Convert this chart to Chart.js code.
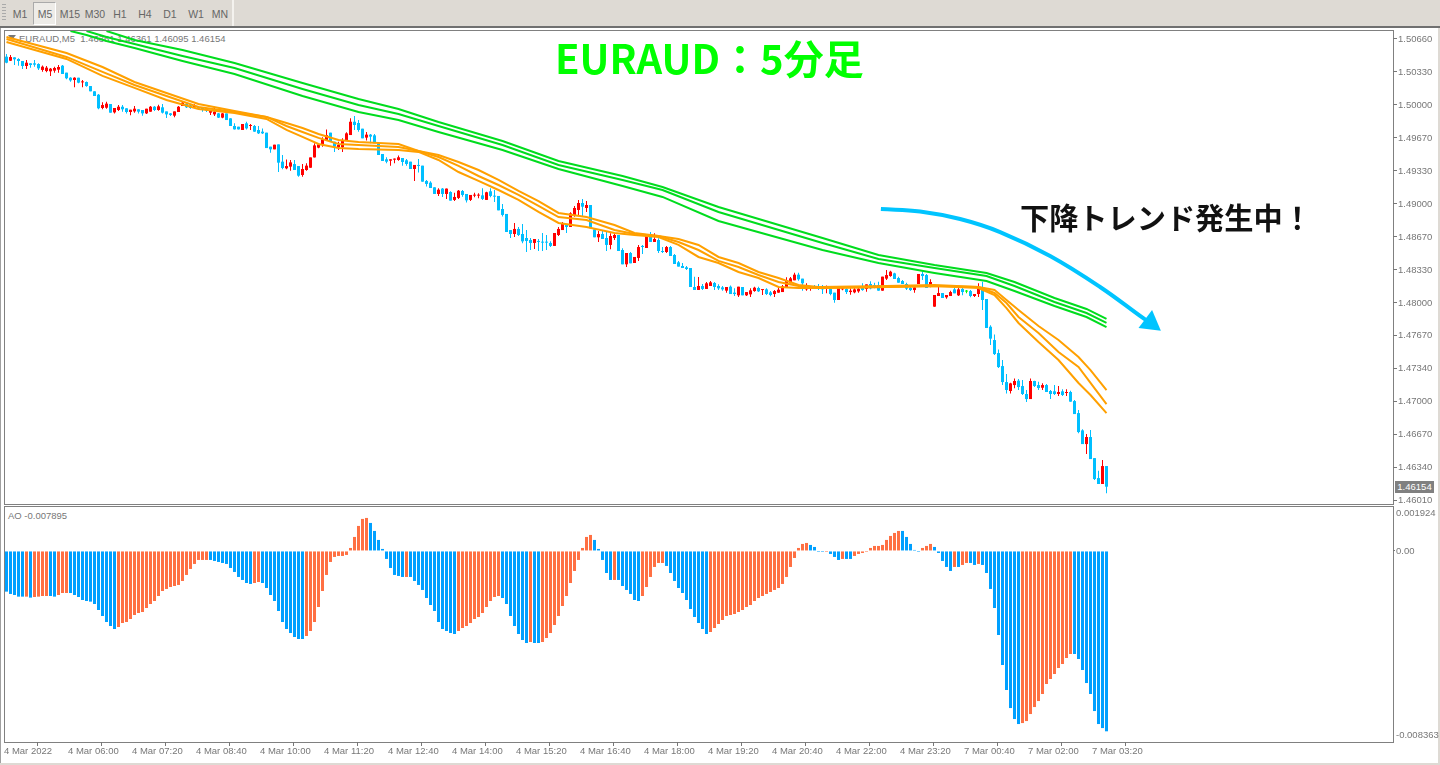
<!DOCTYPE html>
<html>
<head>
<meta charset="utf-8" />
<title>EURAUD M5</title>
<script src="https://cdn.jsdelivr.net/npm/chart.js"></script>
<style>
    html, body { margin: 0; padding: 0; background: #fff; overflow: hidden; }
    body { width: 1440px; height: 765px; position: relative; font-family: "Liberation Sans", sans-serif; }
    canvas { position: absolute; left: 0; z-index: 2; }
    .abs { position: absolute; white-space: nowrap; }
    #toolbar { left: 0; top: 0; width: 1440px; height: 26px; background: #dedad4; }
    .tf { position: absolute; top: 8px; width: 24px; text-align: center; font-size: 10.5px; color: #666; }
    .pane { position: absolute; box-sizing: border-box; border: 1px solid #808080; left: 4px; width: 1390px; }
    .info { color: #777; font-size: 9.5px; z-index: 1; }
    .note { font-family: "Noto Sans CJK JP", sans-serif; font-weight: 700; z-index: 3; line-height: 1; }
</style>
</head>
<body>
<div class="abs" id="toolbar">
    <div class="abs" style="left:2px;top:4px;width:4px;height:18px;background:repeating-linear-gradient(#aaa 0 1px,transparent 1px 3px)"></div>
    <div class="abs" style="left:33px;top:2px;width:21px;height:21px;border:1px solid #aaa;border-right-color:#fff;border-bottom-color:#fff;background:#eeece8"></div>
    <div class="abs" style="left:232px;top:0;width:2px;height:26px;background:#f4f2ee"></div>
    <span class="tf" style="left:8px">M1</span><span class="tf" style="left:33px">M5</span>
    <span class="tf" style="left:58px">M15</span><span class="tf" style="left:83px">M30</span>
    <span class="tf" style="left:108px">H1</span><span class="tf" style="left:133px">H4</span>
    <span class="tf" style="left:158px">D1</span><span class="tf" style="left:184px">W1</span>
    <span class="tf" style="left:208px">MN</span>
</div>
<div class="abs" style="left:0;top:26px;width:1440px;height:2px;background:#707070"></div>
<div class="abs" style="left:0;top:28px;width:1px;height:737px;background:#a0a0a0"></div>
<div class="abs" style="left:1438px;top:28px;width:2px;height:737px;background:#dedad4"></div>
<div class="abs" style="left:0;top:763px;width:1440px;height:2px;background:#dedad4"></div>
<div class="pane" style="top:30px;height:475px"></div>
<div class="pane" style="top:506px;height:237px"></div>
<div class="abs info" style="left:8px;top:35px;width:0;height:0;border-left:4px solid transparent;border-right:4px solid transparent;border-top:5px solid #777;margin-left:0"></div>
<div class="abs info" style="left:19px;top:33px">EURAUD,M5&nbsp; 1.46361 1.46361 1.46095 1.46154</div>
<div class="abs info" style="left:8px;top:510px">AO -0.007895</div>
<div class="abs" style="left:1395px;top:481px;width:39px;height:12px;line-height:12px;background:#808080;color:#fff;font-size:9.5px;text-align:center;z-index:3">1.46154</div>
<div class="abs note" style="left:555px;top:37px;font-size:40px;color:#00ff00">EURAUD：5分足</div>
<div class="abs note" style="left:1020px;top:202px;font-size:29.2px;color:#111">下降トレンド発生中！</div>
<canvas id="priceChart" width="1440" height="505" style="top:0"></canvas>
<canvas id="aoChart" width="1440" height="260" style="top:505px"></canvas>
<script>
// all prices in points (1.50660 = 150660), AO in millionths
const opens = [
150482,150441,150475,150458,150438,150388,150415,150415,150408,150348,
150337,150334,150341,150351,150391,150321,150270,150247,150270,150223,
150227,150186,150133,150099,149965,149968,150005,149921,149945,149978,
149962,149925,149931,149952,149945,149911,149928,149978,149945,149972,
149931,149911,149888,149925,149985,150005,149992,149972,149978,149972,
149962,149918,149901,149911,149868,149911,149861,149784,149777,149744,
149811,149784,149784,149744,149727,149717,149576,149549,149599,149425,
149358,149375,149401,149381,149291,149341,149364,149468,149566,149603,
149643,149717,149626,149569,149569,149643,149693,149827,149814,149757,
149667,149697,149690,149610,149502,149449,149435,149445,149442,149462,
149439,149425,149351,149392,149385,149231,149214,149167,149100,149154,
149100,149120,149040,149060,149130,149100,149040,149083,149083,149086,
149040,149127,149080,149080,148949,148899,148737,148697,148748,148697,
148657,148637,148607,148627,148617,148617,148607,148577,148687,148737,
148788,148768,148888,148939,149009,148959,148989,148744,148664,148697,
148657,148587,148657,148687,148536,148392,148506,148405,148456,148577,
148556,148697,148617,148637,148526,148516,148566,148486,148412,148375,
148362,148355,148164,148134,148174,148144,148174,148204,148174,148160,
148127,148167,148107,148080,148164,148080,148090,148123,148154,148133,
148140,148110,148093,148107,148113,148154,148201,148231,148288,148248,
148140,148150,148174,148174,148150,148144,148144,148107,148033,148140,
148144,148113,148110,148120,148167,148144,148194,148184,148184,148127,
148248,148274,148301,148254,148224,148194,148154,148133,148194,148295,
148284,148184,147966,148073,148103,148060,148073,148140,148080,148144,
148118,148123,148073,148093,148150,148043,147764,147630,147499,147368,
147207,147117,147177,147221,147167,147087,147036,147218,147177,147150,
147177,147117,147114,147087,147114,147097,147107,147016,146895,146721,
146583,146654,146442,146241,146181,146362];
const closes = [
150421,150478,150455,150438,150388,150421,150398,150401,150364,150381,
150371,150361,150368,150378,150307,150264,150243,150270,150220,150230,
150186,150133,150086,149962,149995,150009,149918,149965,149978,149952,
149925,149948,149958,149928,149911,149958,149978,149945,149982,149918,
149901,149895,149931,149978,150019,149972,149965,149995,149958,149945,
149938,149935,149928,149868,149911,149844,149784,149750,149750,149804,
149760,149794,149727,149710,149710,149562,149549,149596,149415,149361,
149381,149418,149341,149284,149351,149385,149468,149589,149599,149650,
149693,149623,149576,149593,149643,149710,149827,149794,149744,149660,
149697,149677,149610,149492,149432,149425,149449,149456,149469,149422,
149402,149351,149392,149382,149224,149201,149160,149100,149143,149100,
149154,149033,149070,149133,149090,149036,149090,149093,149093,149050,
149117,149080,149073,148935,148889,148717,148697,148748,148687,148623,
148627,148607,148647,148617,148610,148610,148577,148707,148748,148798,
148768,148905,148959,149009,148972,148989,148754,148664,148697,148647,
148587,148677,148687,148526,148392,148506,148402,148466,148566,148566,
148687,148617,148647,148526,148516,148566,148476,148395,148369,148355,
148345,148164,148134,148174,148144,148201,148211,148164,148150,148140,
148164,148093,148093,148167,148080,148113,148130,148157,148120,148140,
148093,148083,148123,148137,148170,148234,148251,148288,148241,148201,
148167,148167,148154,148147,148140,148167,148093,148033,148154,148150,
148113,148127,148140,148147,148133,148190,148150,148167,148127,148268,
148284,148318,148244,148207,148194,148147,148133,148160,148295,148274,
148154,148214,148083,148103,148053,148083,148113,148100,148140,148113,
148118,148073,148093,148154,148033,147751,147644,147489,147358,147207,
147127,147194,147218,147157,147087,147036,147218,147167,147147,147177,
147107,147087,147087,147107,147077,147107,147010,146885,146704,146583,
146654,146432,146231,146181,146362,146154];
const highs = [
150509,150498,150475,150465,150438,150448,150415,150448,150415,150394,
150388,150368,150381,150398,150398,150321,150274,150274,150270,150247,
150233,150186,150133,150106,150022,150029,150005,149965,149995,149995,
149962,149948,149985,149952,149945,149958,149985,149985,149999,150005,
149931,149915,149931,149985,150029,150012,149999,150002,149985,149972,
149965,149945,149978,149915,149915,149911,149861,149811,149777,149804,
149827,149804,149794,149784,149760,149717,149576,149596,149599,149492,
149448,149442,149442,149381,149401,149408,149468,149610,149599,149670,
149750,149717,149626,149626,149660,149720,149861,149884,149844,149757,
149724,149704,149704,149610,149502,149469,149449,149456,149486,149462,
149452,149425,149392,149452,149385,149241,149227,149167,149157,149160,
149154,149127,149113,149140,149140,149100,149090,149113,149107,149157,
149123,149157,149140,149080,148999,148899,148737,148808,148768,148798,
148737,148657,148647,148647,148707,148687,148623,148707,148768,148818,
148788,148915,148979,149040,149050,149029,148989,148744,148727,148737,
148717,148704,148697,148687,148553,148506,148516,148466,148587,148587,
148687,148717,148704,148654,148566,148577,148577,148496,148426,148405,
148375,148355,148268,148265,148194,148214,148224,148214,148191,148175,
148164,148180,148150,148167,148164,148113,148150,148167,148167,148140,
148150,148123,148133,148154,148184,148261,148265,148308,148308,148248,
148201,148167,148184,148194,148184,148180,148157,148107,148174,148174,
148157,148150,148167,148174,148201,148190,148221,148207,148217,148268,
148335,148328,148308,148268,148234,148207,148174,148174,148295,148318,
148295,148241,148083,148167,148103,148083,148127,148154,148154,148157,
148133,148133,148093,148201,148217,148043,147778,147687,147536,147429,
147288,147201,147244,147238,147228,147127,147244,147221,147211,147194,
147187,147127,147177,147167,147134,147134,147120,147026,146926,146731,
146684,146724,146442,146315,146422,146362];
const lows = [
150415,150438,150398,150391,150357,150357,150371,150381,150348,150331,
150324,150287,150321,150321,150307,150254,150230,150173,150213,150173,
150180,150133,150086,149952,149952,149958,149918,149911,149935,149928,
149911,149891,149918,149911,149888,149905,149928,149935,149938,149911,
149864,149885,149871,149925,149985,149965,149958,149965,149948,149928,
149925,149895,149885,149864,149861,149844,149784,149750,149750,149744,
149750,149744,149727,149703,149703,149562,149515,149549,149321,149348,
149348,149334,149341,149274,149274,149334,149364,149468,149559,149576,
149643,149623,149522,149542,149522,149643,149693,149744,149727,149660,
149637,149610,149610,149492,149432,149409,149385,149409,149435,149385,
149385,149351,149231,149315,149224,149174,149160,149100,149080,149070,
149050,149033,149029,149050,149073,149013,149029,149066,149056,149040,
149040,149066,149019,148935,148872,148717,148657,148667,148677,148603,
148516,148536,148546,148526,148526,148536,148567,148577,148677,148737,
148707,148768,148870,148889,148879,148919,148754,148664,148617,148647,
148526,148543,148637,148526,148392,148365,148402,148405,148426,148496,
148556,148617,148617,148506,148506,148506,148476,148395,148369,148355,
148335,148164,148134,148134,148134,148144,148174,148134,148134,148125,
148107,148093,148073,148063,148080,148073,148063,148117,148113,148083,
148083,148070,148063,148107,148113,148154,148201,148231,148227,148127,
148127,148127,148147,148133,148093,148100,148080,148006,148033,148130,
148093,148086,148100,148107,148125,148117,148140,148150,148127,148127,
148234,148268,148244,148207,148194,148133,148123,148107,148194,148234,
148154,148160,147966,148073,148053,148046,148073,148100,148073,148080,
148100,148060,148063,148063,147932,147751,147580,147479,147348,147177,
147093,147093,147144,147127,147077,147006,147036,147157,147127,147127,
147107,147036,147077,147067,147067,147067,147010,146885,146691,146583,
146483,146432,146221,146181,146181,146087];

const orangeBars = [0,15,24,32,40,48,57,65,70,74,78,83,88,98,103,108,113,118,123,128,133,138,145,152,157,163,168,173,178,183,188,193,198,203,220,232,243,247,250,253,258,263,268,271,275];
const orangeTop = [150680,150519,150378,150227,150116,150006,149935,149875,149815,149764,149704,149643,149623,149603,149533,149492,149422,149341,149241,149130,149029,148909,148868,148788,148707,148677,148647,148587,148466,148405,148315,148254,148184,148164,148174,148184,148164,148134,148033,147932,147771,147630,147459,147328,147127];
const orangeMid = [150660,150479,150328,150197,150086,149976,149925,149875,149784,149724,149664,149603,149593,149573,149533,149472,149382,149281,149190,149090,148979,148868,148838,148738,148697,148677,148617,148536,148426,148365,148285,148214,148174,148154,148164,148174,148164,148104,148003,147862,147701,147510,147359,147198,146986];
const orangeLow = [150630,150459,150288,150167,150046,149955,149915,149855,149744,149674,149603,149563,149553,149543,149523,149442,149321,149231,149140,149040,148919,148808,148768,148707,148687,148667,148587,148466,148405,148315,148254,148164,148154,148154,148164,148174,148154,148083,147952,147802,147611,147429,147198,147077,146895];

const greenBars = [16,20,25,32,44,57,74,88,98,108,124,138,154,164,178,204,218,232,245,252,262,270,275];
const greenTop = [null,null,150740,150650,150549,150418,150217,150056,149955,149825,149633,149432,149281,149170,148969,148657,148486,148385,148305,148214,148053,147943,147842];
const greenMid = [null,150740,150680,150610,150489,150368,150157,149996,149905,149784,149593,149392,149241,149140,148919,148607,148446,148355,148275,148174,148013,147902,147802];
const greenLow = [150740,150700,150640,150569,150439,150308,150086,149925,149845,149724,149543,149351,149180,149070,148828,148536,148405,148305,148224,148124,147973,147862,147761];

const aoValues = [
-1781,-1883,-1927,-2000,-2000,-2000,-2044,-2015,-2000,-1971,
-1971,-1971,-2000,-1927,-1840,-1840,-1840,-1927,-2015,-2146,
-2190,-2219,-2321,-2584,-2847,-3110,-3285,-3416,-3329,-3154,
-3110,-2978,-2803,-2716,-2672,-2497,-2321,-2190,-1971,-1752,
-1664,-1577,-1533,-1489,-1314,-1051,-788,-569,-394,-394,
-394,-394,-438,-482,-526,-569,-745,-920,-1139,-1270,
-1402,-1445,-1402,-1358,-1402,-1621,-1927,-2190,-2628,-3110,
-3416,-3592,-3767,-3854,-3854,-3723,-3504,-3110,-2453,-1752,
-1051,-482,-263,-219,-219,-175,131,613,1095,1402,
1445,1226,876,482,88,-350,-745,-1051,-1095,-1139,
-1139,-1139,-1314,-1489,-1708,-2059,-2365,-2628,-3110,-3416,
-3504,-3592,-3635,-3504,-3373,-3285,-3154,-2978,-2891,-2716,
-2453,-2190,-2015,-1971,-2059,-2321,-2847,-3285,-3635,-3898,
-4030,-3986,-4030,-4030,-3986,-3811,-3592,-3241,-2847,-2409,
-1971,-1402,-876,-394,131,613,701,482,88,-394,
-964,-1270,-1270,-1270,-1533,-1708,-1883,-2146,-2190,-1971,
-1577,-1139,-701,-526,-526,-657,-964,-1314,-1621,-1840,
-2146,-2540,-2891,-3154,-3416,-3635,-3548,-3373,-3197,-3022,
-2847,-2803,-2759,-2672,-2584,-2453,-2365,-2190,-2059,-1971,
-1883,-1796,-1708,-1621,-1445,-1139,-701,-307,131,307,
350,263,175,-44,-44,-44,-131,-263,-394,-350,
-350,-350,-219,-131,-88,-44,131,219,219,263,
482,657,788,876,876,613,307,44,-44,131,
219,307,175,-88,-438,-701,-876,-701,-701,-613,
-526,-526,-613,-569,-613,-964,-1664,-2497,-3679,-4993,
-6088,-6877,-7358,-7577,-7534,-7446,-7139,-6833,-6570,-6263,
-5825,-5606,-5387,-5125,-4949,-4687,-4511,-4511,-4730,-5212,
-5782,-6263,-7008,-7577,-7753,-7895];
// bars where AO rose (the orange ones), first and last index of each run
const aoRisingRuns = [[5,5],[7,10],[13,15],[28,50],[62,63],[75,90],[100,100],[113,123],[131,131],[134,146],[152,152],[159,164],[176,200],[205,205],[209,209],[212,223],[229,231],[237,237],[239,240],[243,243],[254,266]];

const timeTickBars = [0,16,32,48,64,80,96,112,128,144,160,176,192,208,224,240,256,272];
const timeTickLabels = ['4 Mar 2022','4 Mar 06:00','4 Mar 07:20','4 Mar 08:40','4 Mar 10:00','4 Mar 11:20','4 Mar 12:40','4 Mar 14:00','4 Mar 15:20','4 Mar 16:40','4 Mar 18:00','4 Mar 19:20','4 Mar 20:40','4 Mar 22:00','4 Mar 23:20','7 Mar 00:40','7 Mar 02:00','7 Mar 03:20'];
const priceTicks = [150660,150328,149996,149664,149332,149000,148668,148336,148004,147672,147340,147008,146676,146344,146012];
const priceTickLabels = ['1.50660','1.50330','1.50000','1.49670','1.49330','1.49000','1.48670','1.48330','1.48000','1.47670','1.47340','1.47000','1.46670','1.46340','1.46010'];
const aoTicks = [1663,0,-8054];
const aoTickLabels = ['0.001924','0.00','-0.008363'];

const arrowBars = [218.6,228.4,238.4,248.4,260.9,273.4,284.1,286];
const arrowPrices = [148949,148924,148848,148717,148476,148164,147852,147802];

const candleUp = '#ff0000', candleDown = '#00bfff', candleFlat = '#00ff00';
const orange = '#ffa000', green = '#00dc1e';
const aoUp = '#ff7043', aoDown = '#00a0ff';
const axisGrey = '#777777';

Chart.defaults.font.family = '"Liberation Sans", sans-serif';
Chart.defaults.font.size = 9.5;
Chart.defaults.color = axisGrey;
Chart.defaults.animation = false;

function pts(bars, vals) {
    return bars.map((b, i) => ({x: b, y: vals[i]}));
}
function candleColor(i) {
    if (closes[i] > opens[i]) return candleUp;
    if (closes[i] < opens[i]) return candleDown;
    return candleFlat;
}
function maLine(bars, vals, color) {
    return {type: 'line', data: pts(bars, vals), borderColor: color, borderWidth: 2, pointRadius: 0, tension: 0, order: 2, spanGaps: false};
}
function noPadding(s) {
    s.paddingTop = 0; s.paddingBottom = 0; s.paddingLeft = 0; s.paddingRight = 0;
}
function rightAxis(min, max, ticks, labels, width, tickLen, tickColor) {
    return {
        position: 'right', min: min, max: max,
        afterFit: s => { s.width = width; noPadding(s); },
        afterBuildTicks: s => { s.ticks = ticks.map(v => ({value: v})); },
        border: {display: false},
        grid: {drawOnChartArea: false, tickLength: tickLen, tickColor: tickColor},
        ticks: {padding: 1, autoSkip: false, callback: (v, i) => labels[i]}
    };
}
const xRange = {type: 'linear', offset: false, min: -0.375, max: 346.625};

const priceChart = new Chart(document.getElementById('priceChart'), {
    type: 'bar',
    data: {
        datasets: [
            {type: 'line', data: pts(arrowBars, arrowPrices), borderColor: '#00c4ff', borderWidth: 4, tension: 0.4,
             pointRadius: c => c.dataIndex == arrowBars.length - 1 ? 13 : 0, pointStyle: 'triangle', pointRotation: 127,
             pointBackgroundColor: '#00c4ff', pointBorderWidth: 0, order: 0, clip: false},
            maLine(greenBars, greenTop, green),
            maLine(greenBars, greenMid, green),
            maLine(greenBars, greenLow, green),
            maLine(orangeBars, orangeTop, orange),
            maLine(orangeBars, orangeMid, orange),
            maLine(orangeBars, orangeLow, orange),
            {data: opens.map((o, i) => ({x: i, y: [o, closes[i]]})), backgroundColor: opens.map((o, i) => candleColor(i)),
             barThickness: 3, minBarLength: 1, inflateAmount: 0, grouped: false, order: 3},
            {data: lows.map((l, i) => ({x: i, y: [l, highs[i]]})), backgroundColor: opens.map((o, i) => candleColor(i)),
             barThickness: 1, minBarLength: 1, inflateAmount: 0, grouped: false, order: 4}
        ]
    },
    options: {
        responsive: false,
        layout: {autoPadding: false, padding: {left: 5, top: 31, bottom: 1, right: 0}},
        plugins: {legend: {display: false}, tooltip: {enabled: false}},
        scales: {
            x: Object.assign({display: false}, xRange),
            y: rightAxis(145980, 150740, priceTicks, priceTickLabels, 47, 4, axisGrey)
        }
    }
});

function aoColor(i) {
    return aoRisingRuns.some(r => i >= r[0] && i <= r[1]) ? aoUp : aoDown;
}
const aoChart = new Chart(document.getElementById('aoChart'), {
    type: 'bar',
    data: {
        datasets: [{
            data: aoValues.map((v, i) => ({x: i, y: v})),
            backgroundColor: aoValues.map((v, i) => aoColor(i)),
            barThickness: 3, inflateAmount: 0, grouped: false
        }]
    },
    options: {
        responsive: false,
        layout: {autoPadding: false, padding: {left: 5, top: 2, bottom: 0, right: 0}},
        plugins: {legend: {display: false}, tooltip: {enabled: false}},
        scales: {
            x: Object.assign({
                position: 'bottom',
                afterFit: s => { s.height = 23; noPadding(s); },
                afterBuildTicks: s => { s.ticks = timeTickBars.map(b => ({value: b - 0.25})); },
                border: {display: false},
                grid: {drawOnChartArea: false, tickLength: 4, tickColor: axisGrey},
                ticks: {align: 'start', maxRotation: 0, autoSkip: false, padding: 0, labelOffset: -1.5, callback: (v, i) => timeTickLabels[i]}
            }, xRange),
            y: rightAxis(-8363, 1924, aoTicks, aoTickLabels, 47, 2, c => c.index == 1 ? axisGrey : 'transparent')
        }
    }
});
</script>
</body>
</html>
